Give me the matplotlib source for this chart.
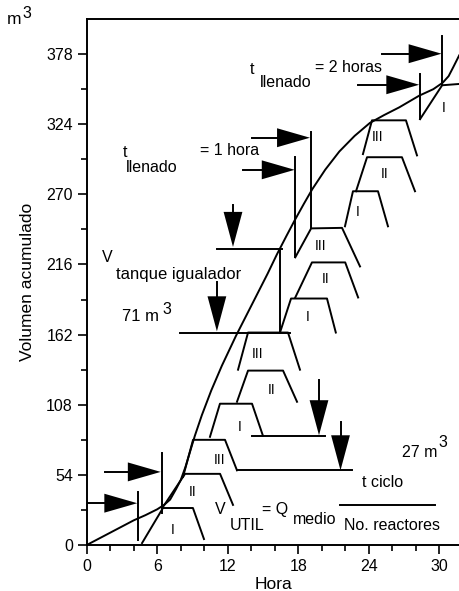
import numpy as np
import matplotlib.pyplot as plt

plt.rcParams['font.family'] = ['Liberation Sans', 'DejaVu Sans']

# curva de volumen acumulado (hora, m3)
hora = [0, 2, 4, 5, 6, 6.6, 7.1, 7.6, 8.0, 8.4, 8.8, 9.2, 9.8, 10.6, 11.5, 12.7,
        13.6, 14.5, 15.4, 16.2, 17.0, 17.7, 18.5, 19.2, 20.3, 21.5, 22.8, 24.1,
        25.3, 26.6, 28.3, 29.5, 30.3, 30.8, 31.2, 31.7]
volumen = [0, 9.5, 19, 23, 27.5, 31, 35, 43, 50, 60, 72, 84, 100, 119, 138, 161,
           177, 193, 209, 224, 238, 250, 263, 274, 289, 303, 315, 325,
           331, 337, 346, 351, 356, 361, 368, 377]

# ciclos de los reactores: llenado / reaccion / vaciado
reactor = ['I', 'II', 'III', 'I', 'II', 'III', 'I', 'II', 'III', 'I', 'II', 'III', 'I']
ciclo_h = [[4.71, 6.49, 9.04, 9.98], [6.49, 8.37, 11.35, 12.45], [8.2, 9.05, 11.77, 12.79],
           [10.49, 11.34, 14.07, 15.0], [12.79, 13.73, 16.71, 17.9], [12.88, 13.73, 17.13, 18.15],
           [16.45, 17.39, 20.45, 21.2], [17.75, 19.17, 22.0, 23.1], [17.75, 19.1, 21.73, 23.26],
           [21.98, 22.66, 24.79, 25.64], [22.92, 23.86, 26.83, 27.94], [23.51, 24.28, 27.17, 28.11],
           [28.37, 30.25, 31.7]]
ciclo_v = [[1.5, 28.5, 28.5, 4.6], [29.3, 54.8, 54.8, 30.9], [52.5, 81, 81, 57.5],
           [83.3, 108.8, 108.8, 84.1], [110.3, 134.3, 134.3, 110.3], [135, 163.6, 163.6, 135],
           [163.6, 189.8, 189.8, 163.6], [190.6, 217.6, 217.6, 190.6], [221.5, 243.8, 244.2, 214.5],
           [245.4, 272.4, 272.4, 245.4], [272.4, 298.6, 298.6, 272.4], [301, 327, 327, 300],
           [327.9, 354, 355]]
etiqueta_h = [7.34, 9.04, 11.34, 13.04, 15.77, 14.58, 18.83, 20.36, 19.94, 23.09, 25.39, 24.79, 30.41]
etiqueta_v = [11.6, 40.8, 65.5, 90.9, 119.4, 147.1, 175.7, 204.9, 230.4, 256.5, 285.8, 314.3, 336.7]

# niveles horizontales (desde, hasta, volumen)
niveles = [(11.1, 16.6, 228), (7.94, 17.3, 163.6), (14.04, 20.28, 84.1), (12.79, 22.58, 57.5)]
# lineas verticales (hora, v inferior, v superior)
verticales = [(4.39, 4, 41), (6.38, 25, 71), (17.75, 221.5, 299), (19.1, 243.8, 318),
              (16.45, 163.6, 228), (28.37, 327.9, 362.6), (30.25, 354, 392)]
# flechas horizontales (punta, volumen, cola)
flechas_h = [(4.3, 32.2, 0.0), (6.3, 56.3, 1.56), (19.0, 313.6, 14.1),
             (17.7, 288.9, 13.3), (30.2, 378.3, 25.1), (28.3, 354.4, 23.1)]
# flechas verticales (hora, punta, cola)
flechas_v = [(12.45, 229.5, 262), (11.08, 164.5, 202.6), (19.77, 84.5, 127), (21.6, 57.5, 94.8)]

fig = plt.figure(figsize=(4.6, 5.91), dpi=100)
ax = fig.add_axes([0.1885, 0.0778, 0.8115, 0.890])

lw = 1.4
ax.plot(hora, volumen, color='black', lw=lw)

for h, v in zip(ciclo_h, ciclo_v):
    ax.plot(h, v, color='black', lw=lw)
for txt, x, y in zip(reactor, etiqueta_h, etiqueta_v):
    ax.text(x, y, txt, fontsize=10, ha='center', va='center')

for h0, h1, v in niveles:
    ax.plot([h0, h1], [v, v], color='black', lw=lw)
for h, v0, v1 in verticales:
    ax.plot([h, h], [v0, v1], color='black', lw=lw)

# puntas de flecha
L_h, a_h = 2.8, 7.3
for tip, v, tail in flechas_h:
    ax.plot([tail, tip - L_h], [v, v], color='black', lw=lw)
    ax.fill([tip - L_h, tip, tip - L_h], [v - a_h, v, v + a_h], color='black', lw=0)
L_v, a_v = 27, 0.8
for h, tip, tail in flechas_v:
    ax.plot([h, h], [tail, tip + L_v], color='black', lw=lw)
    ax.fill([h - a_v, h, h + a_v], [tip + L_v, tip, tip + L_v], color='black', lw=0)

fs = 11.5
# t llenado = 2 horas
ax.text(14.07, 366, 't', fontsize=fs, ha='center', va='center')
ax.text(16.97, 356, 'llenado', fontsize=fs, ha='center', va='center')
ax.text(19.43, 367.5, '= 2 horas', fontsize=fs, ha='left', va='center')
# t llenado = 1 hora
ax.text(3.27, 302, 't', fontsize=fs, ha='center', va='center')
ax.text(5.56, 291, 'llenado', fontsize=fs, ha='center', va='center')
ax.text(9.64, 304, '= 1 hora', fontsize=fs, ha='left', va='center')
# V tanque igualador
ax.text(1.73, 221, 'V', fontsize=fs, ha='center', va='center')
ax.text(2.5, 208, 'tanque igualador', fontsize=12, ha='left', va='center')
ax.text(4.55, 175.7, '71 m', fontsize=12, ha='center', va='center')
ax.text(6.83, 181, '3', fontsize=fs, ha='center', va='center')
# 27 m3
ax.text(26.83, 71.6, '27 m', fontsize=fs, ha='left', va='center')
ax.text(30.3, 79, '3', fontsize=fs, ha='center', va='center')
# V util
ax.text(11.35, 27, 'V', fontsize=fs, ha='center', va='center')
ax.text(12.2, 15.4, 'UTIL', fontsize=fs, ha='left', va='center')
ax.text(14.92, 27, '= Q', fontsize=fs, ha='left', va='center')
ax.text(17.56, 20, 'medio', fontsize=fs, ha='left', va='center')
ax.text(25.2, 47.8, 't ciclo', fontsize=fs, ha='center', va='center')
ax.plot([21.56, 29.64], [30.8, 30.8], color='black', lw=lw)
ax.text(26.0, 15.4, 'No. reactores', fontsize=fs, ha='center', va='center')

# ejes
ax.set_xlim(0, 31.77)
ax.set_ylim(0, 405)
ax.set_xticks(np.arange(0, 31, 6))
ax.set_xticks(np.arange(0, 32, 2), minor=True)
ax.set_yticks(np.arange(0, 379, 54))
ax.set_yticks(np.arange(27, 400, 54), minor=True)
ax.tick_params(which='both', direction='out', width=1.2, labelsize=11.5)
ax.tick_params(which='major', length=6.5)
ax.tick_params(which='minor', length=4.5)
ax.spines['right'].set_visible(False)
for s in ['left', 'bottom', 'top']:
    ax.spines[s].set_linewidth(1.4)

ax.set_xlabel('Hora', fontsize=12.5, labelpad=2)
ax.set_ylabel('Volumen acumulado', fontsize=12.5, labelpad=8)
fig.text(7 / 460, 1 - 20 / 591, 'm', fontsize=12.5, ha='left', va='center')
fig.text(27 / 460, 1 - 13 / 591, '3', fontsize=11.5, ha='center', va='center')

fig.savefig('out.png', dpi=100)
